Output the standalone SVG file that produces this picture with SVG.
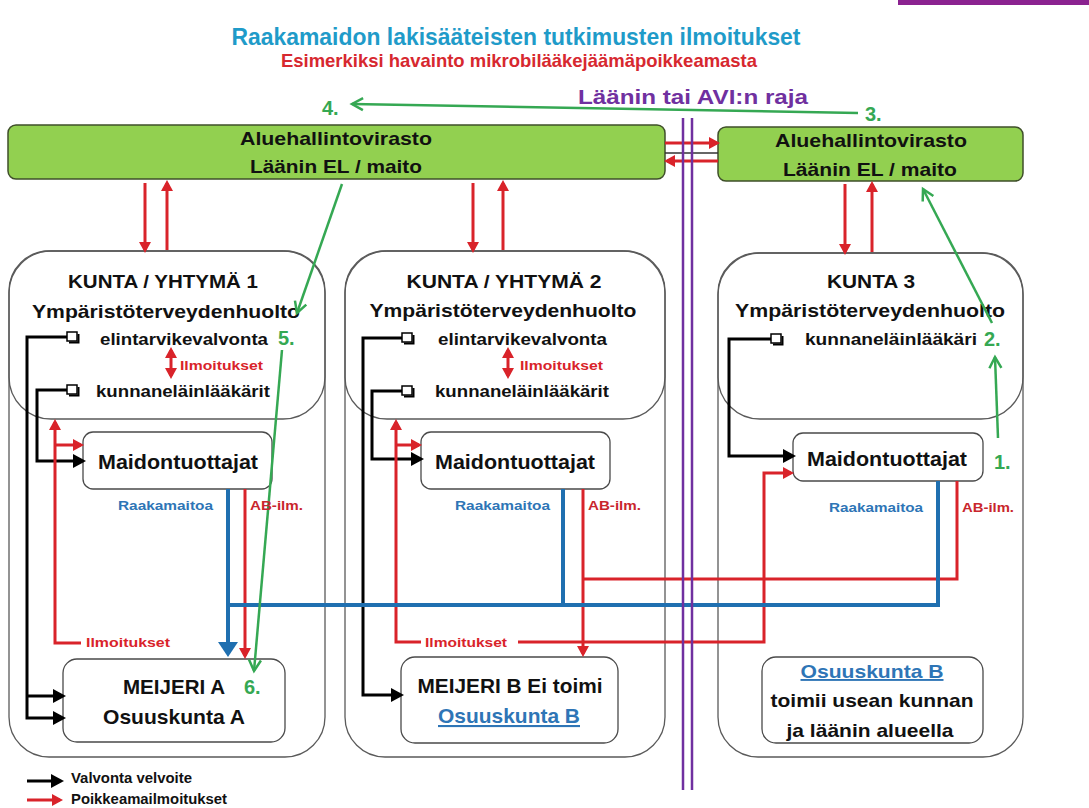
<svg xmlns="http://www.w3.org/2000/svg" width="1089" height="808" viewBox="0 0 1089 808">
<style>
text{font-family:"Liberation Sans",Arial,sans-serif;font-weight:bold;fill:#111}
.kb{fill:#fff;stroke:#5a5a5a;stroke-width:1.3}
.ks{fill:none;stroke:#5a5a5a;stroke-width:1.3}
.gb{fill:#92d050;stroke:#3f4f2a;stroke-width:1.5}
.ib{fill:#fff;stroke:#4a4a4a;stroke-width:1.3}
.cb{fill:#fff;stroke:#000;stroke-width:1.5}
.cs{fill:none;stroke:#000;stroke-width:2}
.k{fill:none;stroke:#000;stroke-width:3}
.r{fill:none;stroke:#d9232a;stroke-width:3}
.b{fill:none;stroke:#1f6fb0;stroke-width:4}
.g{fill:none;stroke:#35a853;stroke-width:2.5}
.p{fill:none;stroke:#7030a0;stroke-width:2.5}
.t19{font-size:19px}
.t17{font-size:17px}
.t21{font-size:21px}
.sm{font-size:13px}
.num{font-size:20px;fill:#35a853}
.blue{fill:#2e75b6}
.red{fill:#d9232a}
</style>
<defs>
<marker id="aR" markerUnits="userSpaceOnUse" markerWidth="12" markerHeight="12" refX="8" refY="6" orient="auto-start-reverse" overflow="visible"><path d="M0,0 L11,6 L0,12 z" fill="#d9232a"/></marker>
<marker id="aK" markerUnits="userSpaceOnUse" markerWidth="13" markerHeight="14" refX="9" refY="7" orient="auto" overflow="visible"><path d="M0,0 L13,7 L0,14 z" fill="#000"/></marker>
<marker id="aB" markerUnits="userSpaceOnUse" markerWidth="15" markerHeight="20" refX="11" refY="10" orient="auto" overflow="visible"><path d="M0,0 L15,10 L0,20 z" fill="#1f6fb0"/></marker>
<marker id="aG" markerUnits="userSpaceOnUse" markerWidth="12" markerHeight="12" refX="11" refY="6" orient="auto" overflow="visible"><path d="M0,0 L11,6 L0,12" fill="none" stroke="#35a853" stroke-width="2.5"/></marker>
</defs>

<rect x="898" y="0" width="191" height="5" fill="#8b2290"/>

<g id="titles">
<text x="516" y="45" text-anchor="middle" font-size="24" textLength="569" lengthAdjust="spacingAndGlyphs" style="fill:#1f9bc9">Raakamaidon lakisääteisten tutkimusten ilmoitukset</text>
<text x="519" y="67" text-anchor="middle" font-size="19" textLength="476" lengthAdjust="spacingAndGlyphs" style="fill:#d7282f">Esimerkiksi havainto mikrobilääkejäämäpoikkeamasta</text>
<text x="693" y="104" text-anchor="middle" font-size="21" textLength="230" lengthAdjust="spacingAndGlyphs" style="fill:#7030a0">Läänin tai AVI:n raja</text>
</g>

<g id="avi-left">
<rect class="gb" x="8" y="125" width="657" height="54" rx="8"/>
<text class="t19" x="336" y="145" text-anchor="middle" textLength="192" lengthAdjust="spacingAndGlyphs">Aluehallintovirasto</text>
<text class="t19" x="336" y="173" text-anchor="middle" textLength="172" lengthAdjust="spacingAndGlyphs">Läänin EL / maito</text>
</g>
<g id="avi-right">
<rect class="gb" x="718" y="127" width="305" height="54" rx="8"/>
<text class="t19" x="871" y="147" text-anchor="middle" textLength="192" lengthAdjust="spacingAndGlyphs">Aluehallintovirasto</text>
<text class="t19" x="870" y="176" text-anchor="middle" textLength="174" lengthAdjust="spacingAndGlyphs">Läänin EL / maito</text>
</g>

<g id="kunta1">
<rect class="kb" x="9" y="251" width="316" height="506" rx="40"/>
<rect class="ks" x="9" y="251" width="316" height="168" rx="42"/>
<text class="t19" x="163" y="288" text-anchor="middle" textLength="190" lengthAdjust="spacingAndGlyphs">KUNTA / YHTYMÄ 1</text>
<text class="t19" x="166" y="318" text-anchor="middle" textLength="268" lengthAdjust="spacingAndGlyphs">Ympäristöterveydenhuolto</text>
<rect class="cb" x="67" y="332" width="10" height="9"/><path class="cs" d="M69,342.5 H78.5 V334"/>
<text class="t17" x="100" y="345" textLength="168" lengthAdjust="spacingAndGlyphs">elintarvikevalvonta</text>
<rect class="cb" x="67" y="385" width="10" height="9"/><path class="cs" d="M69,395.5 H78.5 V387"/>
<text class="t17" x="96" y="397" textLength="174" lengthAdjust="spacingAndGlyphs">kunnaneläinlääkärit</text>
<text class="sm red" x="180" y="370" textLength="83" lengthAdjust="spacingAndGlyphs">Ilmoitukset</text>
</g>
<g id="maid1">
<rect class="ib" x="83" y="432" width="189" height="57" rx="10"/>
<text class="t21" x="178" y="469" text-anchor="middle" textLength="160" lengthAdjust="spacingAndGlyphs">Maidontuottajat</text>
</g>
<g id="meijeriA">
<rect class="ib" x="63" y="659" width="222" height="83" rx="14"/>
<text class="t21" x="174" y="694" text-anchor="middle" textLength="102" lengthAdjust="spacingAndGlyphs">MEIJERI A</text>
<text class="t21" x="174" y="724" text-anchor="middle" textLength="142" lengthAdjust="spacingAndGlyphs">Osuuskunta A</text>
</g>

<g id="kunta2">
<rect class="kb" x="345" y="251" width="320" height="506" rx="40"/>
<rect class="ks" x="345" y="251" width="320" height="168" rx="42"/>
<text class="t19" x="504" y="288" text-anchor="middle" textLength="195" lengthAdjust="spacingAndGlyphs">KUNTA / YHTYMÄ 2</text>
<text class="t19" x="503" y="317" text-anchor="middle" textLength="267" lengthAdjust="spacingAndGlyphs">Ympäristöterveydenhuolto</text>
<rect class="cb" x="402" y="333" width="10" height="9"/><path class="cs" d="M404,343.5 H413.5 V335"/>
<text class="t17" x="438" y="345" textLength="169" lengthAdjust="spacingAndGlyphs">elintarvikevalvonta</text>
<rect class="cb" x="402" y="386" width="10" height="9"/><path class="cs" d="M404,396.5 H413.5 V388"/>
<text class="t17" x="435" y="397" textLength="174" lengthAdjust="spacingAndGlyphs">kunnaneläinlääkärit</text>
<text class="sm red" x="520" y="370" textLength="83" lengthAdjust="spacingAndGlyphs">Ilmoitukset</text>
</g>
<g id="maid2">
<rect class="ib" x="421" y="432" width="189" height="57" rx="10"/>
<text class="t21" x="515" y="469" text-anchor="middle" textLength="160" lengthAdjust="spacingAndGlyphs">Maidontuottajat</text>
</g>
<g id="meijeriB">
<rect class="ib" x="401" y="657" width="217" height="86" rx="14"/>
<text class="t21" x="510" y="693" text-anchor="middle" textLength="185" lengthAdjust="spacingAndGlyphs">MEIJERI B Ei toimi</text>
<text class="t21 blue" x="509" y="723" text-anchor="middle" textLength="142" lengthAdjust="spacingAndGlyphs" text-decoration="underline">Osuuskunta B</text>
</g>

<g id="kunta3">
<rect class="kb" x="718" y="253" width="305" height="504" rx="40"/>
<rect class="ks" x="718" y="253" width="305" height="166" rx="42"/>
<text class="t19" x="871" y="288" text-anchor="middle" textLength="88" lengthAdjust="spacingAndGlyphs">KUNTA 3</text>
<text class="t19" x="870" y="317" text-anchor="middle" textLength="270" lengthAdjust="spacingAndGlyphs">Ympäristöterveydenhuolto</text>
<rect class="cb" x="771" y="334" width="10" height="9"/><path class="cs" d="M773,344.5 H782.5 V336"/>
<text class="t17" x="805" y="345" textLength="172" lengthAdjust="spacingAndGlyphs">kunnaneläinlääkäri</text>
</g>
<g id="maid3">
<rect class="ib" x="793" y="433" width="190" height="48" rx="10"/>
<text class="t21" x="887" y="466" text-anchor="middle" textLength="160" lengthAdjust="spacingAndGlyphs">Maidontuottajat</text>
</g>
<g id="osuuskuntaB">
<rect class="ib" x="762" y="657" width="221" height="86" rx="14"/>
<text class="t19 blue" x="872" y="678" text-anchor="middle" textLength="143" lengthAdjust="spacingAndGlyphs" text-decoration="underline">Osuuskunta B</text>
<text class="t19" x="872" y="707" text-anchor="middle" textLength="203" lengthAdjust="spacingAndGlyphs">toimii usean kunnan</text>
<text class="t19" x="870" y="737" text-anchor="middle" textLength="167" lengthAdjust="spacingAndGlyphs">ja läänin alueella</text>
</g>

<g id="connectors">
<path class="k" d="M67,337 H27 V718 H62" marker-end="url(#aK)"/>
<path class="k" d="M27,696 H62" marker-end="url(#aK)"/>
<path class="k" d="M67,390 H37 V461 H82" marker-end="url(#aK)"/>
<path class="k" d="M402,338 H363 V695 H400" marker-end="url(#aK)"/>
<path class="k" d="M402,391 H372 V459 H420" marker-end="url(#aK)"/>
<path class="k" d="M771,339 H729 V456 H792" marker-end="url(#aK)"/>

<path class="r" d="M145,183 V250" marker-end="url(#aR)"/>
<path class="r" d="M167,250 V183" marker-end="url(#aR)"/>
<path class="r" d="M473,183 V250" marker-end="url(#aR)"/>
<path class="r" d="M503,250 V183" marker-end="url(#aR)"/>
<path class="r" d="M845,184 V252" marker-end="url(#aR)"/>
<path class="r" d="M872,252 V184" marker-end="url(#aR)"/>
<path class="r" d="M665,143 H717" marker-end="url(#aR)"/>
<path class="r" d="M718,161 H667" marker-end="url(#aR)"/>
<path d="M665,153 H718" stroke="#333" stroke-width="1.5"/>

<path class="r" d="M171,350 V376" marker-start="url(#aR)" marker-end="url(#aR)"/>
<path class="r" d="M508,350 V376" marker-start="url(#aR)" marker-end="url(#aR)"/>
<path class="r" d="M81,643 H55 V422" marker-end="url(#aR)"/>
<path class="r" d="M55,445 H81" marker-end="url(#aR)"/>
<path class="r" d="M421,642 H396 V422" marker-end="url(#aR)"/>
<path class="r" d="M396,445 H419" marker-end="url(#aR)"/>
<path class="r" d="M518,642 H764 V473 H791" marker-end="url(#aR)"/>
<path class="r" d="M245,489 V656" marker-end="url(#aR)"/>
<path class="r" d="M957,481 V579 H583"/>
<path class="r" d="M583,489 V654" marker-end="url(#aR)"/>

<path class="b" d="M563,489 V605"/>
<path class="b" d="M938,481 V605 H228"/>
<path class="b" d="M228,489 V653" marker-end="url(#aB)"/>

<path class="g" d="M998,438 L995,357" marker-end="url(#aG)"/>
<path class="g" d="M992,323 L923,189" marker-end="url(#aG)"/>
<path class="g" d="M858,113 L352,104" marker-end="url(#aG)"/>
<path class="g" d="M342,184 L297,313" marker-end="url(#aG)"/>
<path class="g" d="M282,350 L254,671" marker-end="url(#aG)"/>
</g>

<g id="border">
<path class="p" d="M683,118 V790"/>
<path class="p" d="M692,118 V790"/>
</g>

<g id="labels">
<text class="sm blue" x="118" y="510" textLength="95" lengthAdjust="spacingAndGlyphs">Raakamaitoa</text>
<text class="sm" x="250" y="510" textLength="53" lengthAdjust="spacingAndGlyphs" style="fill:#c9262d">AB-ilm.</text>
<text class="sm blue" x="455" y="510" textLength="95" lengthAdjust="spacingAndGlyphs">Raakamaitoa</text>
<text class="sm" x="588" y="510" textLength="53" lengthAdjust="spacingAndGlyphs" style="fill:#c9262d">AB-ilm.</text>
<text class="sm blue" x="829" y="512" textLength="94" lengthAdjust="spacingAndGlyphs">Raakamaitoa</text>
<text class="sm" x="962" y="512" textLength="52" lengthAdjust="spacingAndGlyphs" style="fill:#c9262d">AB-ilm.</text>
<text class="sm red" x="86" y="647" textLength="84" lengthAdjust="spacingAndGlyphs">Ilmoitukset</text>
<text class="sm red" x="425" y="647" textLength="82" lengthAdjust="spacingAndGlyphs">Ilmoitukset</text>
<text class="num" x="322" y="115">4.</text>
<text class="num" x="865" y="121">3.</text>
<text class="num" x="984" y="346">2.</text>
<text class="num" x="994" y="469">1.</text>
<text class="num" x="278" y="345">5.</text>
<text class="num" x="244" y="694">6.</text>
</g>

<g id="legend">
<path class="k" d="M27,781 H60" marker-end="url(#aK)"/>
<path class="r" d="M27,800 H60" marker-end="url(#aR)"/>
<text x="71" y="783" font-size="14" textLength="121" lengthAdjust="spacingAndGlyphs">Valvonta velvoite</text>
<text x="71" y="804" font-size="14" textLength="156" lengthAdjust="spacingAndGlyphs">Poikkeamailmoitukset</text>
</g>
</svg>
